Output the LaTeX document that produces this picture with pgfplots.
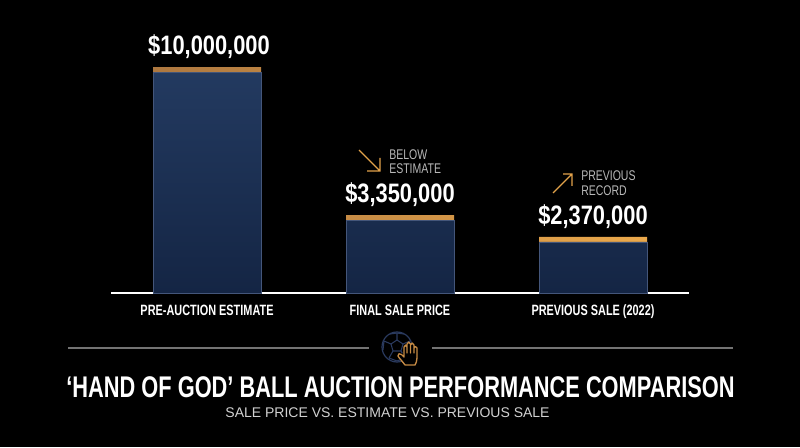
\documentclass[border=0pt]{standalone}
\usepackage{pgfplots}
\usepackage{pgfplotstable}
\usepackage{fontspec}
\pgfplotsset{compat=1.18}
\setmainfont{Liberation Sans}
\newfontfamily\cond[FakeStretch=0.82]{Liberation Sans}
\newfontfamily\condb[FakeStretch=0.73]{Liberation Sans}
\newfontfamily\condc[FakeStretch=0.75]{Liberation Sans}
\newfontfamily\condt[FakeStretch=0.73]{Liberation Sans}
\definecolor{gold}{HTML}{EBA94C}
\definecolor{goldd}{HTML}{AE7840}
\definecolor{navytop}{HTML}{233A60}
\definecolor{navybot}{HTML}{142544}
\definecolor{edgeb}{HTML}{44567A}
\definecolor{ballc}{HTML}{2A3A5E}
\definecolor{greyt}{HTML}{B9B9B9}
\pgfplotstableread{
x v cap label
0 10000000 225000 {\hspace{3pt}\$10,000,000}
1 3350000 225000 {\$3,350,000}
2 2370000 225000 {\$2,370,000}
}\bars
\begin{document}
\begin{tikzpicture}
\fill[black] (0,0) rectangle (600pt,335.25pt);
\begin{axis}[
  at={(83.25pt,115.5pt)}, anchor=south west,
  scale only axis, width=433.5pt, height=189.75pt,
  xmin=-0.4974, xmax=2.4974, ymin=0, ymax=11365000,
  axis y line=none, axis x line=bottom,
  axis line style={white,line width=1.1pt,-},
  x axis line style={-},
  ybar stacked, bar width=81pt,
  xtick=data, xticklabels={PRE-AUCTION ESTIMATE,FINAL SALE PRICE,PREVIOUS SALE (2022)},
  major tick length=0pt,
  xticklabel style={font=\condb\bfseries\fontsize{11.2pt}{13pt}\selectfont,text=white,anchor=base,yshift=-16.5pt},
  clip=false,
]
\addplot[draw=edgeb,line width=0.5pt,top color=navytop,bottom color=navybot]
  table[x=x,y expr=\thisrow{v}+150000-\thisrow{cap}] {\bars};
\addplot[draw=none,left color=goldd,right color=gold,
  point meta=explicit symbolic,
  nodes near coords,
  every node near coord/.style={font=\cond\bfseries\fontsize{20pt}{24pt}\selectfont,text=white,anchor=base,yshift=11pt,inner sep=0pt},
  ]
  table[x=x,y=cap,meta=label] {\bars};
\end{axis}
\begin{scope}[x=0.75pt,y=-0.75pt,yshift=335.25pt]
\draw[gold!85!goldd,line width=1pt] (359,150)--(380,171) (367,171)--(380,171)--(380,158);
\draw[gold!85!goldd,line width=1pt] (553,193)--(572,174) (563,174)--(572,174)--(572,186);
\node[anchor=base west,inner sep=0pt,text=greyt,font=\condc\fontsize{10.5pt}{12pt}\selectfont] at (389,160) {BELOW};
\node[anchor=base west,inner sep=0pt,text=greyt,font=\condc\fontsize{10.5pt}{12pt}\selectfont] at (389,174) {ESTIMATE};
\node[anchor=base west,inner sep=0pt,text=greyt,font=\condc\fontsize{10.5pt}{12pt}\selectfont] at (581,181) {PREVIOUS};
\node[anchor=base west,inner sep=0pt,text=greyt,font=\condc\fontsize{10.5pt}{12pt}\selectfont] at (581,195) {RECORD};
\draw[black!55,line width=0.9pt] (68,348)--(369,348) (432,348)--(733,348);
\draw[ballc,line width=0.9pt] (397,347) circle (15);
\draw[ballc,line width=0.8pt] (391,344)--(397,340)--(403,344)--(401,351)--(393,351)--cycle
 (397,340)--(397,333) (391,344)--(384,341) (403,344)--(410,341) (393,351)--(389,358) (401,351)--(405,358)
 (390,334)--(397,333)--(404,334) (384,341)--(383,350) (389,358)--(397,361)--(405,358);
\fill[black,rounded corners=2] (404,364)--(397,355)--(401,352)--(404,355)--(404,345)--(410,342)--(416,345)--(417,356)--(414,365)--cycle;
\draw[goldd!60!gold,line width=1pt,line join=round,line cap=round]
 (405,365) .. controls (403,362) and (399,358) .. (398,356)
 .. controls (397.5,353.5) and (400,353) .. (401.5,354.5) -- (404,357)
 -- (404,347) .. controls (404,344.5) and (407,344.5) .. (407,347) -- (407,353)
 (407,347) -- (407,344) .. controls (407,341.5) and (410.5,341.5) .. (410.5,344) -- (410.5,353)
 (410.5,345) .. controls (410.5,342.5) and (414,342.5) .. (414,345) -- (414,353)
 (414,348) .. controls (414,346) and (417,346) .. (417,348) -- (417,358)
 .. controls (417,361) and (416,363) .. (415,365) -- (405,365);
\node[anchor=base,inner sep=0pt,text=white,font=\condt\bfseries\fontsize{22.4pt}{26pt}\selectfont] at (400.5,397) {‘HAND OF GOD’ BALL AUCTION PERFORMANCE COMPARISON};
\node[anchor=base,inner sep=0pt,text=white!82!black,font=\fontsize{10.5pt}{13pt}\selectfont] at (387.5,417.5) {SALE PRICE VS. ESTIMATE VS. PREVIOUS SALE};
\end{scope}
\end{tikzpicture}
\end{document}
